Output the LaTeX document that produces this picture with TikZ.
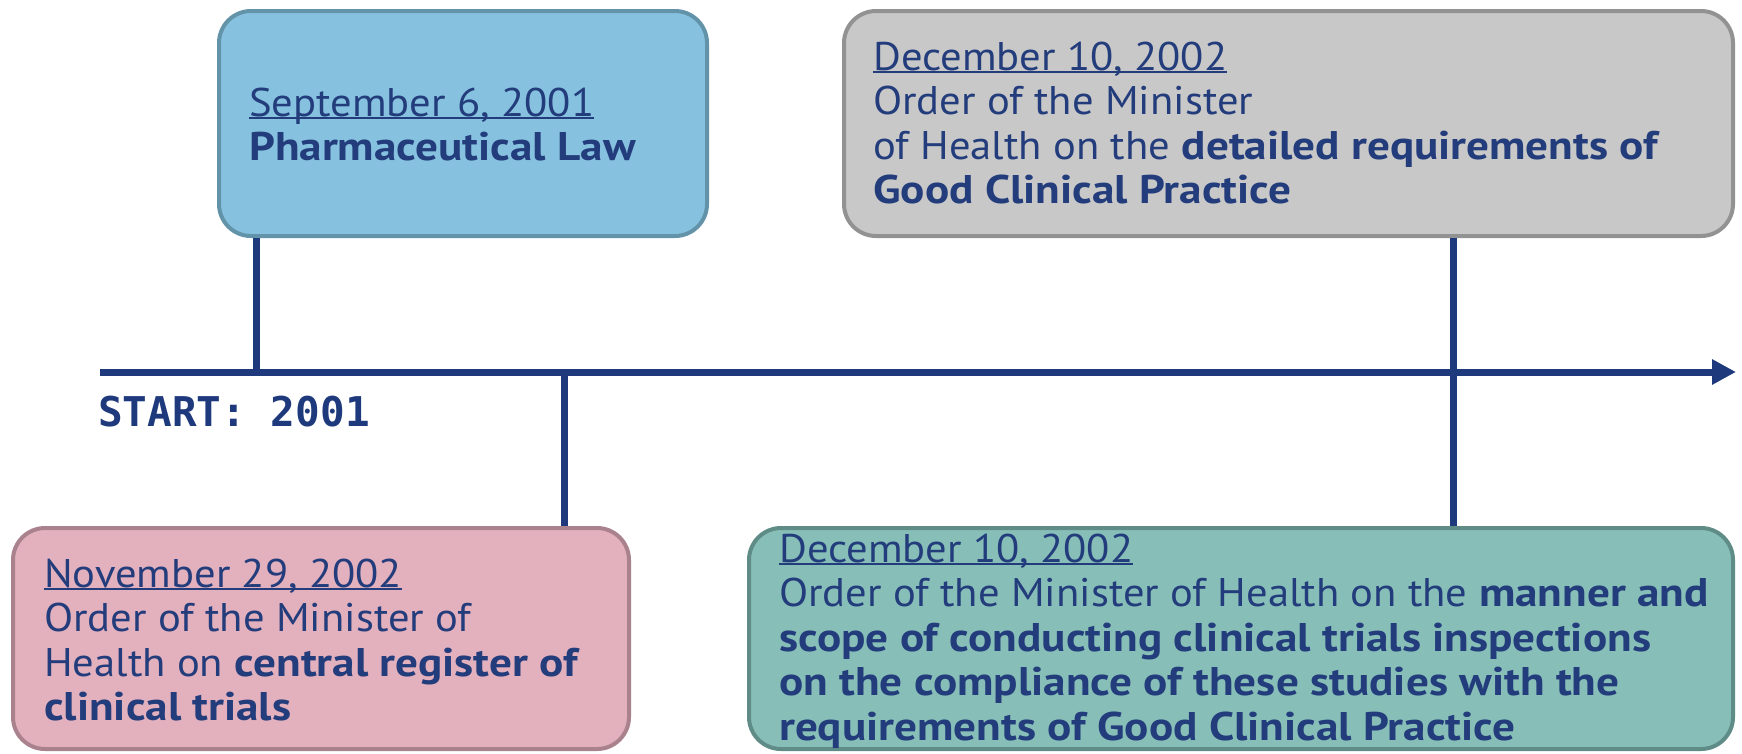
\documentclass[tikz,border=0pt]{standalone}
\usepackage{fontspec}
\setmainfont{PT Sans}[UprightFeatures={FakeStretch=1.065}, BoldFeatures={FakeStretch=1.13}]
\newfontfamily\startfont{DejaVu Sans Mono}
\usetikzlibrary{arrows.meta}

\definecolor{navy}{HTML}{233C7B}
\definecolor{linenavy}{HTML}{1F3A7C}
\definecolor{skyfill}{HTML}{86C2DF}
\definecolor{skyedge}{HTML}{6393A9}
\definecolor{greyfill}{HTML}{C8C8C8}
\definecolor{greyedge}{HTML}{929292}
\definecolor{rosefill}{HTML}{E3B0BD}
\definecolor{roseedge}{HTML}{A9828E}
\definecolor{tealfill}{HTML}{87BFB8}
\definecolor{tealedge}{HTML}{5F8C87}

% underlined date, rule sits just under the baseline
\newcommand\dateline[1]{\setbox0\hbox{#1}\rlap{\rule[-3pt]{\wd0}{1.6pt}}\box0}

\tikzset{
  evbox/.style={draw, line width=4pt, rounded corners=32pt, inner sep=0pt},
  evtext/.style={anchor=base west, inner sep=0pt, text=navy,
                 font=\fontsize{40}{44.5}\selectfont},
  conn/.style={draw=linenavy, line width=7pt},
}

\begin{document}
\begin{tikzpicture}[x=1pt, y=-1pt]
\useasboundingbox (0,0) rectangle (1742,753);

% event boxes
\node[evbox, fill=skyfill, draw=skyedge, minimum width=488pt, minimum height=225pt]
  (law) at (463,123.5) {};
\node[evbox, fill=greyfill, draw=greyedge, minimum width=889pt, minimum height=225pt]
  (gcp) at (1288.5,123.5) {};
\node[evbox, fill=rosefill, draw=roseedge, minimum width=616pt, minimum height=221pt]
  (reg) at (321,638.5) {};
\node[evbox, fill=tealfill, draw=tealedge, minimum width=984pt, minimum height=221pt]
  (insp) at (1241,638.5) {};

% box texts
\node[evtext] (lawtxt) at (249,116) {\begin{tabular}[t]{@{}l@{}}
  \dateline{September 6, 2001}\\
  \textbf{Pharmaceutical Law}\end{tabular}};
\node[evtext] (gcptxt) at (873,70) {\begin{tabular}[t]{@{}l@{}}
  \dateline{December 10, 2002}\\
  Order of the Minister\\
  of Health on the \textbf{detailed requirements of}\\
  \textbf{Good Clinical Practice}\end{tabular}};
\node[evtext] (regtxt) at (44,587) {\begin{tabular}[t]{@{}l@{}}
  \dateline{November 29, 2002}\\
  Order of the Minister of\\
  Health on \textbf{central register of}\\
  \textbf{clinical trials}\end{tabular}};
\node[evtext] (insptxt) at (779,562) {\begin{tabular}[t]{@{}l@{}}
  \dateline{December 10, 2002}\\
  Order of the Minister of Health on the \textbf{manner and}\\
  \textbf{scope of conducting clinical trials inspections}\\
  \textbf{on the compliance of these studies with the}\\
  \textbf{requirements of Good Clinical Practice}\end{tabular}};

% timeline
\coordinate (tl0) at (100,372);
\coordinate (tl1) at (1736,372);
\coordinate (k1) at (256,372);
\coordinate (k2) at (564,372);
\coordinate (k3) at (1453,372);
\draw[conn, -{Triangle[length=24pt,width=24pt]}] (tl0) -- (tl1);

% connectors from the timeline to the boxes
\draw[conn] (law.south -| k1) -- (k1);
\draw[conn] (k2) -- (reg.north -| k2);
\draw[conn] (gcp.south -| k3) -- (insp.north -| k3);

\node[anchor=base west, inner sep=0pt, text=linenavy,
      font=\startfont\bfseries\fontsize{41}{41}\selectfont] (start) at (98,426) {START: 2001};
\end{tikzpicture}
\end{document}
